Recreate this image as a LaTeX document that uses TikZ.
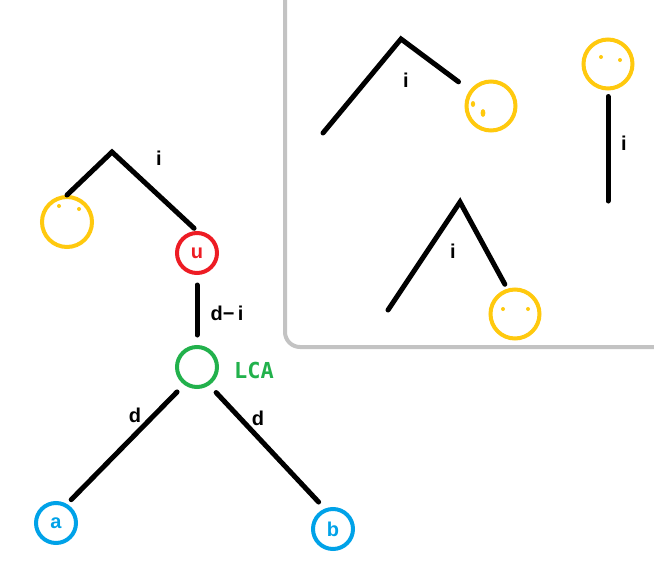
\documentclass[tikz,border=0pt]{standalone}
\usepackage{fontspec}
\setmainfont{Liberation Sans}
\newfontfamily\lcafont{DejaVu Sans Mono}
\definecolor{pyellow}{HTML}{FFC90E}
\definecolor{pred}{HTML}{ED1C24}
\definecolor{pgreen}{HTML}{22B14C}
\definecolor{pblue}{HTML}{00A2E8}
\definecolor{pgray}{HTML}{C3C3C3}
\tikzset{
  lblfont/.style={font=\fontsize{20}{24}\selectfont\bfseries},
}

\begin{document}
\begin{tikzpicture}[
      x=1pt,y=-1pt,
      branch/.style={line width=5pt,line cap=round},
      vert/.style={circle,line width=4pt,minimum size=40pt,inner sep=0pt,lblfont},
      face/.style={circle,draw=pyellow,line width=4pt,minimum size=49pt,inner sep=0pt},
      lbl/.style={lblfont,inner sep=0pt}
      ]
      \useasboundingbox (0,0) rectangle (654,571);
      % panel on the right
      \draw[pgray,line width=4pt,rounded corners=15pt] (285,-20) -- (285,347) -- (680,347);
      % left tree
      \coordinate (t1) at (112,152);
      \node[face,minimum size=50pt] (y1) at (67,222) {};
      \node[vert,draw=pred,text=pred] (u) at (197,253) {u};
      \node[vert,draw=pgreen] (lca) at (197,367) {};
      \node[vert,draw=pblue,text=pblue] (a) at (56,523) {a};
      \node[vert,draw=pblue,text=pblue] (b) at (333,529) {b};
      \draw[branch,shorten >=4pt] (y1.north) -- (t1) -- (u.north);
      \draw[branch,shorten <=10pt,shorten >=10pt] (u) -- (lca);
      \draw[branch,shorten <=10pt,shorten >=6pt] (lca.234) -- (a.60);
      \draw[branch,shorten <=10pt,shorten >=9pt] (lca.304) -- (b.112);
      \node[lbl] (li1) at (159,158) {i};
      \node[lbl] (ldi) at (227,313) {d−\,i};
      \node[inner sep=0pt,text=pgreen,font=\lcafont\fontsize{22}{26}\selectfont\bfseries] (llca) at (254,370) {LCA};
      \node[lbl] (ld1) at (135,415) {d};
      \node[lbl] (ld2) at (258,418) {d};
      % panel trees
      \coordinate (t2) at (401,39);
      \coordinate (l2) at (323,133);
      \node[face] (f2) at (491,106) {};
      \draw[branch,shorten >=14pt] (l2) -- (t2) -- (f2);
      \node[lbl] (li2) at (406,80) {i};
      \node[face] (f4) at (608,64) {};
      \coordinate (e4) at (608,201);
      \draw[branch,shorten <=6pt] (f4) -- (e4);
      \node[lbl] (li4) at (624,143) {i};
      \coordinate (t3) at (460,202);
      \coordinate (l3) at (388,310);
      \node[face] (f3) at (515,314) {};
      \draw[branch,shorten >=5pt] (l3) -- (t3) -- (f3.107);
      \node[lbl] (li3) at (453,251) {i};
      % eyes
      \fill[pyellow] (y1) ++(-8,-16) circle (2pt);
      \fill[pyellow] (y1) ++(12,-13) circle (2pt);
      \fill[pyellow] (f2) ++(-18,-2) ellipse (2.2pt and 3pt);
      \fill[pyellow] (f2) ++(-8,7) ellipse (2.4pt and 4pt);
      \fill[pyellow] (f4) ++(-7,-7) circle (2pt);
      \fill[pyellow] (f4) ++(12,-4) circle (2pt);
      \fill[pyellow] (f3) ++(-12,-5) circle (2pt);
      \fill[pyellow] (f3) ++(13,-5) circle (2pt);
    \end{tikzpicture}
\end{document}
